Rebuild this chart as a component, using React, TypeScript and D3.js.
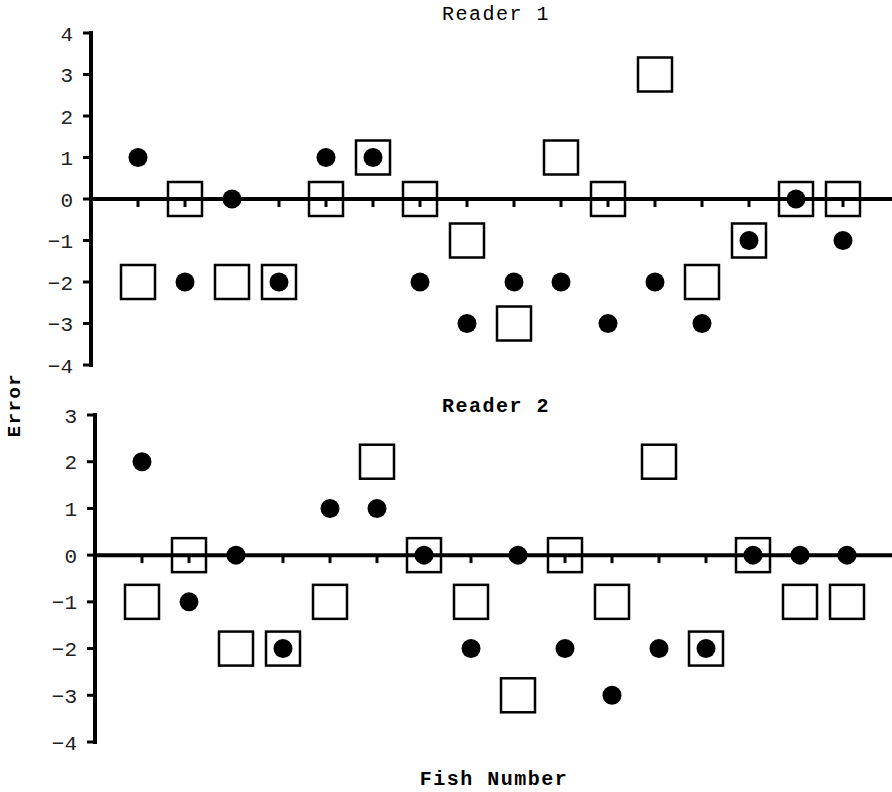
import React from "react";
import * as d3 from "d3";

const fish = d3.range(1, 17);
const r1Circles = [1, -2, 0, -2, 1, 1, -2, -3, -2, -2, -3, -2, -3, -1, 0, -1];
const r1Squares = [-2, 0, -2, -2, 0, 1, 0, -1, -3, 1, 0, 3, -2, -1, 0, 0];
const r2Circles = [2, -1, 0, -2, 1, 1, 0, -2, 0, -2, -3, -2, -2, 0, 0, 0];
const r2Squares = [-1, 0, -2, -2, -1, 2, 0, -1, -3, 0, -1, 2, -2, 0, -1, -1];
const r1Ticks = [4, 3, 2, 1, 0, -1, -2, -3, -4];
const r2Ticks = [3, 2, 1, 0, -1, -2, -3, -4];

const FONT = "'Liberation Mono', 'DejaVu Sans Mono', monospace";

type PanelProps = {
  title: string;
  titleBold: boolean;
  titleY: number;
  circles: number[];
  squares: number[];
  ticks: number[];
  yDomain: [number, number];
  yRange: [number, number];
  axisX: number;
  xRange: [number, number];
};

function Panel(p: PanelProps) {
  const y = d3.scaleLinear().domain(p.yDomain).range(p.yRange);
  const x = d3.scaleLinear().domain([1, 16]).range(p.xRange);
  const y0 = y(0);
  const sq = 34;
  return (
    <g>
      <text
        x={496}
        y={p.titleY}
        textAnchor="middle"
        fontFamily={FONT}
        fontSize={20}
        fontWeight={p.titleBold ? "bold" : "normal"}
        letterSpacing={1.5}
        fill="#000"
      >
        {p.title}
      </text>
      <line x1={p.axisX} x2={p.axisX} y1={y(p.yDomain[1]) - 2} y2={y(p.yDomain[0]) + 2} stroke="#000" strokeWidth={4} />
      {p.ticks.map((t) => (
        <g key={t}>
          <line x1={p.axisX - 8} x2={p.axisX} y1={y(t)} y2={y(t)} stroke="#000" strokeWidth={3} />
          <text
            x={p.axisX - 18}
            y={y(t)}
            dy="0.36em"
            textAnchor="end"
            fontFamily={FONT}
            fontSize={21}
            fill="#222"
          >
            {t < 0 ? "\u2212" + Math.abs(t) : String(t)}
          </text>
        </g>
      ))}
      <line x1={p.axisX} x2={892} y1={y0} y2={y0} stroke="#000" strokeWidth={4} />
      {fish.map((f) => (
        <line key={f} x1={x(f)} x2={x(f)} y1={y0} y2={y0 + 8} stroke="#000" strokeWidth={3} />
      ))}
      {fish.map((f, i) => (
        <rect
          key={"s" + f}
          x={x(f) - sq / 2}
          y={y(p.squares[i]) - sq / 2}
          width={sq}
          height={sq}
          fill="none"
          stroke="#000"
          strokeWidth={2.5}
        />
      ))}
      {fish.map((f, i) => (
        <circle key={"c" + f} cx={x(f)} cy={y(p.circles[i])} r={9.5} fill="#000" />
      ))}
    </g>
  );
}

export default function App() {
  return (
    <svg width={892} height={792} style={{ position: "absolute", left: 0, top: 0, background: "#fff" }}>
      <rect width={892} height={792} fill="#fff" />
      <Panel
        title="Reader 1"
        titleBold={false}
        titleY={20}
        circles={r1Circles}
        squares={r1Squares}
        ticks={r1Ticks}
        yDomain={[-4, 4]}
        yRange={[365, 33]}
        axisX={91}
        xRange={[138, 843]}
      />
      <Panel
        title="Reader 2"
        titleBold={true}
        titleY={412}
        circles={r2Circles}
        squares={r2Squares}
        ticks={r2Ticks}
        yDomain={[-4, 3]}
        yRange={[742, 415]}
        axisX={95}
        xRange={[142, 847]}
      />
      <text
        transform="translate(20,405) rotate(-90)"
        textAnchor="middle"
        fontFamily={FONT}
        fontSize={19}
        fontWeight="bold"
        letterSpacing={1.5}
        fill="#000"
      >
        Error
      </text>
      <text
        x={494}
        y={785}
        textAnchor="middle"
        fontFamily={FONT}
        fontSize={20}
        fontWeight="bold"
        letterSpacing={1.5}
        fill="#000"
      >
        Fish Number
      </text>
    </svg>
  );
}
